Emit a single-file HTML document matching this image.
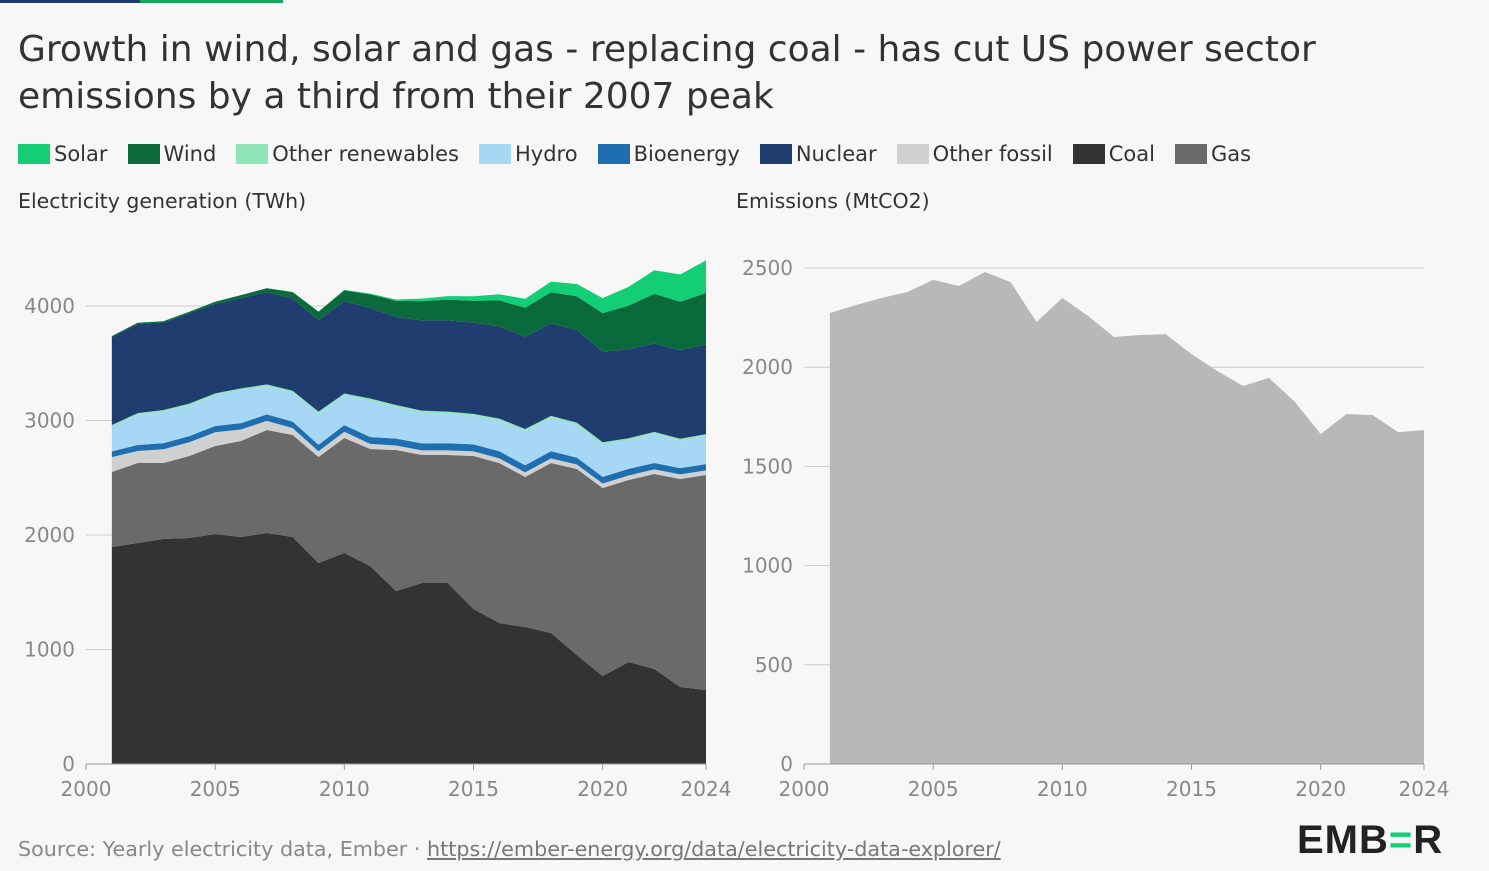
<!DOCTYPE html>
<html><head><meta charset="utf-8"><style>
body{margin:0;width:1489px;height:871px;background:#f7f7f7;font-family:"DejaVu Sans","Liberation Sans",sans-serif;overflow:hidden;position:relative;color:#222}
.t{position:absolute;left:18px;top:26px;font-size:36px;line-height:47px;color:#333;white-space:nowrap}
.leg{position:absolute;top:142px;left:18px;display:flex;font-size:21px;color:#333;white-space:nowrap}
.leg span{display:flex;align-items:center;margin-right:20px}
.leg i{display:inline-block;width:32px;height:20px;margin-right:4px}
.sub{position:absolute;top:189px;font-size:20.5px;color:#333;white-space:nowrap}
svg{position:absolute;left:0;top:0}
</style></head><body>
<div style="position:absolute;left:0;top:0;width:140px;height:3px;background:#1c3a6e"></div>
<div style="position:absolute;left:140px;top:0;width:143px;height:3px;background:#13a85a"></div>
<div class="t">Growth in wind, solar and gas - replacing coal - has cut US power sector<br>emissions by a third from their 2007 peak</div>
<div class="leg">
<span><i style="background:#13ce74"></i>Solar</span>
<span><i style="background:#0b6a3b"></i>Wind</span>
<span><i style="background:#8fe5b8"></i>Other renewables</span>
<span><i style="background:#a6d8f5"></i>Hydro</span>
<span><i style="background:#1f6fb0"></i>Bioenergy</span>
<span><i style="background:#1f3d6e"></i>Nuclear</span>
<span><i style="background:#d0d0d0"></i>Other fossil</span>
<span><i style="background:#333"></i>Coal</span>
<span><i style="background:#6a6a6a"></i>Gas</span>
</div>
<div class="sub" style="left:18px">Electricity generation (TWh)</div>
<div class="sub" style="left:736px">Emissions (MtCO2)</div>
<svg id="c" width="1489" height="871"></svg>
<div style="position:absolute;left:18px;top:837px;font-size:20.7px;color:#888;white-space:nowrap">Source: Yearly electricity data, Ember · <span style="text-decoration:underline;color:#777">https://ember-energy.org/data/electricity-data-explorer/</span></div>
<div style="position:absolute;left:1297px;top:818px;font-size:40px;font-weight:bold;color:#222;letter-spacing:1px;font-family:'Liberation Sans',sans-serif">EMB<span style="color:#13ce74">=</span>R</div>
<script>
const years=[2001,2002,2003,2004,2005,2006,2007,2008,2009,2010,2011,2012,2013,2014,2015,2016,2017,2018,2019,2020,2021,2022,2023,2024];
const coal=[1895,1930,1965,1974,2009,1983,2017,1983,1755,1843,1729,1511,1581,1581,1354,1231,1197,1144,952,769,891,830,672,646];
const gas=[655,699,664,716,768,838,900,890,926,1004,1022,1231,1118,1118,1336,1398,1310,1485,1624,1641,1589,1703,1817,1878];
const otherFossil=[130,105,120,120,120,100,80,60,50,55,45,40,40,40,40,40,40,40,40,40,40,40,40,40];
const bioenergy=[50,52,53,54,55,56,56,57,57,58,60,60,61,62,62,62,62,62,60,58,57,56,55,55];
const hydro=[217,264,276,268,270,289,247,254,273,260,319,276,269,259,249,268,300,292,288,285,251,255,240,245];
const otherRen=[14,14,14,15,15,15,15,16,16,16,17,17,17,17,17,17,17,17,17,17,17,17,17,17];
const nuclear=[769,780,764,789,782,787,806,806,799,807,790,769,789,797,797,806,805,807,809,790,778,772,775,782];
const wind=[7,10,11,14,18,27,34,55,74,95,120,141,168,182,191,227,254,273,295,338,380,434,421,451];
const solar=[1,1,1,1,1,1,1,2,2,3,6,12,21,30,39,54,77,93,107,131,164,205,238,285];
const emissions=[2273,2313,2349,2379,2440,2409,2480,2429,2228,2349,2258,2152,2162,2167,2066,1981,1905,1946,1825,1663,1764,1759,1673,1683];
const genTicks=[0,1000,2000,3000,4000];
const emTicks=[0,500,1000,1500,2000,2500];
const xTicks=[2000,2005,2010,2015,2020,2024];
const svg=document.getElementById('c');const NS='http://www.w3.org/2000/svg';
function mk(t,a,txt){const e=document.createElementNS(NS,t);for(const k in a)e.setAttribute(k,a[k]);if(txt!=null)e.textContent=txt;svg.appendChild(e);return e;}
const xL=y=>86+(y-2000)*620/24, yL=v=>764-v*458/4000;
const xR=y=>804+(y-2000)*620/24, yR=v=>764-v*496/2500;
genTicks.forEach(v=>{if(v>0){const g=mk('line',{x1:86,x2:706,y1:yL(v),y2:yL(v),stroke:'#ccc','stroke-width':1});}
const t=mk('text',{x:75,y:yL(v)+7,'text-anchor':'end','font-size':20,fill:'#888'},v);});
emTicks.forEach(v=>{if(v>0){const g=mk('line',{x1:804,x2:1424,y1:yR(v),y2:yR(v),stroke:'#ccc','stroke-width':1});}
const t=mk('text',{x:793,y:yR(v)+7,'text-anchor':'end','font-size':20,fill:'#888'},v);});
const series=[[coal,'#333','coal'],[gas,'#6a6a6a','gas'],[otherFossil,'#d0d0d0','other-fossil'],[bioenergy,'#1f6fb0','bioenergy'],[hydro,'#a6d8f5','hydro'],[otherRen,'#8fe5b8','other-renewables'],[nuclear,'#1f3d6e','nuclear'],[wind,'#0b6a3b','wind'],[solar,'#13ce74','solar']];
let base=years.map(()=>0);
series.forEach(([d,c,n])=>{const top=base.map((b,i)=>b+d[i]);
let p='M'+years.map((y,i)=>xL(y)+','+yL(top[i])).join('L');
for(let i=years.length-1;i>=0;i--)p+='L'+xL(years[i])+','+yL(base[i]);
const e=mk('path',{d:p+'Z',fill:c});base=top;});
let pe='M'+xR(years[0])+','+yR(0)+'L'+years.map((y,i)=>xR(y)+','+yR(emissions[i])).join('L')+'L'+xR(years[years.length-1])+','+yR(0)+'Z';
const ea=mk('path',{d:pe,fill:'#b8b8b8'});
[[86,706],[804,1424]].forEach(([a,b],k)=>{const l=mk('line',{x1:a,x2:b,y1:764,y2:764,stroke:'#999'});});
xTicks.forEach(y=>{[xL,xR].forEach(f=>{const l=mk('line',{x1:f(y),x2:f(y),y1:764,y2:770,stroke:'#999'});
const t=mk('text',{x:f(y),y:796,'text-anchor':'middle','font-size':20,fill:'#888'},y);});});
</script>
</body></html>
